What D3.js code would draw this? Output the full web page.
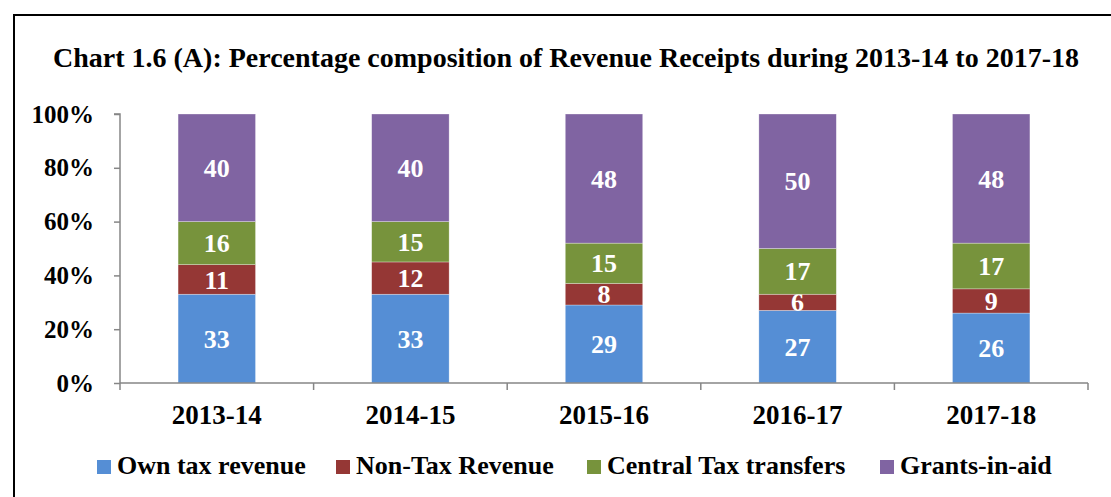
<!DOCTYPE html>
<html>
<head>
<meta charset="utf-8">
<script src="https://cdn.jsdelivr.net/npm/d3@7"></script>
<style>
  body { margin: 0; background: #fff; }
  svg text { font-family: 'Liberation Serif', 'Times New Roman', serif; font-weight: bold; }
</style>
</head>
<body>
<div id="chart"></div>
<script>
const years = ['2013-14', '2014-15', '2015-16', '2016-17', '2017-18'];
const seriesNames = ['Own tax revenue', 'Non-Tax Revenue', 'Central Tax transfers', 'Grants-in-aid'];
const ownTax = [33, 33, 29, 27, 26];
const nonTax = [11, 12, 8, 6, 9];
const centralTax = [16, 15, 15, 17, 17];
const grants = [40, 40, 48, 50, 48];
const yTicks = [0, 20, 40, 60, 80, 100];
const colors = ['#558ED5', '#953735', '#77933C', '#8064A2'];

const W = 1111, H = 497;
const plot = { left: 120, right: 1088, top: 114, bottom: 383 };

const svg = d3.select('#chart').append('svg').attr('width', W).attr('height', H);

// outer frame
svg.append('rect')
  .attr('x', 14).attr('y', 15).attr('width', 1200).attr('height', 600)
  .attr('fill', 'none').attr('stroke', '#000').attr('stroke-width', 2);

svg.append('text')
  .attr('x', 566).attr('y', 67)
  .attr('text-anchor', 'middle')
  .style('font-size', '28px')
  .text('Chart 1.6 (A): Percentage composition of Revenue Receipts during 2013-14 to 2017-18');

const rows = years.map((y, i) => ({
  year: y,
  [seriesNames[0]]: ownTax[i],
  [seriesNames[1]]: nonTax[i],
  [seriesNames[2]]: centralTax[i],
  [seriesNames[3]]: grants[i]
}));

const x = d3.scaleBand().domain(years).range([plot.left, plot.right]).padding(0);
const y = d3.scaleLinear().domain([0, 100]).range([plot.bottom, plot.top]);
const color = d3.scaleOrdinal().domain(seriesNames).range(colors);
const barW = x.bandwidth() * 0.4;

const stacked = d3.stack().keys(seriesNames)(rows);

const layers = svg.append('g')
  .selectAll('g')
  .data(stacked)
  .join('g')
  .attr('fill', (d) => color(d.key));

layers.selectAll('rect')
  .data((d) => d)
  .join('rect')
  .attr('x', (d) => x(d.data.year) + (x.bandwidth() - barW) / 2)
  .attr('y', (d) => y(d[1]))
  .attr('width', barW)
  .attr('height', (d) => y(d[0]) - y(d[1]))
  .attr('stroke', '#fff')
  .attr('stroke-opacity', 0.5)
  .attr('stroke-width', 0.6);

layers.selectAll('text')
  .data((d) => d)
  .join('text')
  .attr('x', (d) => x(d.data.year) + x.bandwidth() / 2)
  .attr('y', (d) => (y(d[0]) + y(d[1])) / 2)
  .attr('dy', '0.35em')
  .attr('text-anchor', 'middle')
  .attr('fill', '#fff')
  .style('font-size', '26px')
  .text((d) => d[1] - d[0]);

// y axis
const yAxis = svg.append('g')
  .attr('transform', `translate(${plot.left},0)`)
  .call(d3.axisLeft(y).tickValues(yTicks).tickSize(6).tickPadding(20).tickFormat((d) => d + '%'));
yAxis.selectAll('line, path').attr('stroke', '#868686').attr('stroke-width', 1.5);
yAxis.select('.domain').attr('d', `M-6,${plot.top}H0V${plot.bottom}`);
yAxis.selectAll('text')
  .attr('fill', '#000')
  .style('font-size', '25px')
  .style('font-family', "'Liberation Serif', 'Times New Roman', serif")
  .style('font-weight', 'bold');

// x axis
const xAxis = svg.append('g')
  .attr('transform', `translate(0,${plot.bottom})`)
  .call(d3.axisBottom(x).tickSize(0).tickPadding(22));
xAxis.select('.domain').attr('stroke', '#868686').attr('stroke-width', 1.5).attr('d', `M${plot.left},0H${plot.right}`);
xAxis.selectAll('text')
  .attr('fill', '#000')
  .style('font-size', '27px')
  .style('font-family', "'Liberation Serif', 'Times New Roman', serif")
  .style('font-weight', 'bold');

const bounds = years.map((d) => x(d)).concat([x(years[years.length - 1]) + x.step()]);
xAxis.selectAll('.sep')
  .data(bounds)
  .join('line')
  .attr('class', 'sep')
  .attr('x1', (d) => d).attr('x2', (d) => d)
  .attr('y1', 0).attr('y2', 7)
  .attr('stroke', '#868686').attr('stroke-width', 1.5);

// legend
const legendX = [97, 336, 587, 880];
const legend = svg.append('g')
  .selectAll('g')
  .data(seriesNames)
  .join('g')
  .attr('transform', (d, i) => `translate(${legendX[i]},460)`);
legend.append('rect')
  .attr('width', 14).attr('height', 14)
  .attr('fill', (d) => color(d));
legend.append('text')
  .attr('x', 20).attr('y', 14)
  .style('font-size', '26px')
  .text((d) => d);
</script>
</body>
</html>
